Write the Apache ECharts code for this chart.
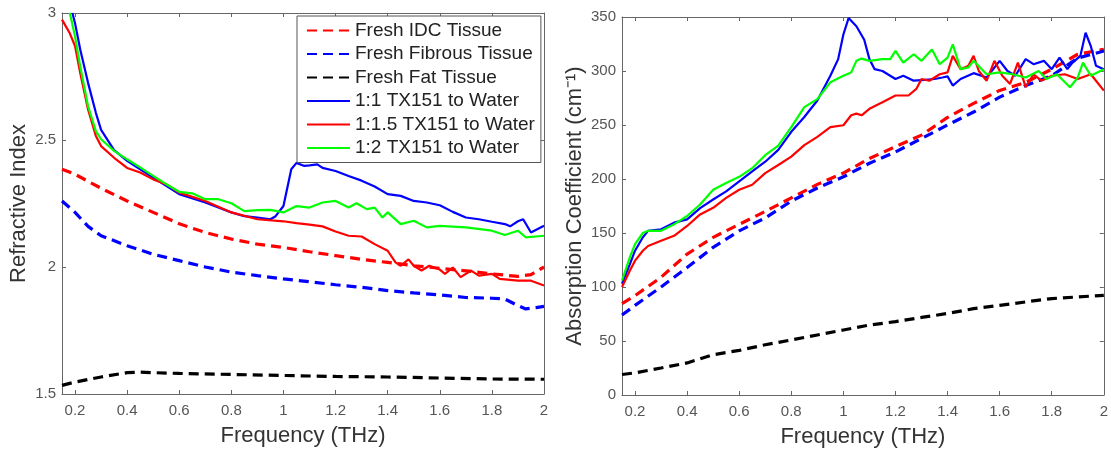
<!DOCTYPE html>
<html>
<head>
<meta charset="utf-8">
<script src="https://cdn.jsdelivr.net/npm/echarts@6/dist/echarts.min.js"></script>
<style>
html, body { margin: 0; padding: 0; background: #fff; }
#chart { width: 1111px; height: 453px; }
</style>
</head>
<body>
<div id="chart"></div>
<script>
// tick positions on the frequency axis
var xTicks = [0.2, 0.4, 0.6, 0.8, 1, 1.2, 1.4, 1.6, 1.8, 2];

var seriesNames = ['Fresh IDC Tissue', 'Fresh Fibrous Tissue', 'Fresh Fat Tissue',
    '1:1 TX151 to Water', '1:1.5 TX151 to Water', '1:2 TX151 to Water'];

// refractive index, [frequency THz, n]
var riIdc = [[0.15,2.385],[0.2,2.365],[0.3,2.31],[0.4,2.26],[0.5,2.215],[0.6,2.17],[0.7,2.136],[0.8,2.11],[0.9,2.09],[1.0,2.077],[1.1,2.06],[1.2,2.045],[1.3,2.03],[1.4,2.018],[1.5,2.005],[1.6,1.995],[1.7,1.985],[1.8,1.973],[1.9,1.963],[1.95,1.97],[2.0,2.0]];
var riFibrous = [[0.15,2.26],[0.2,2.215],[0.25,2.16],[0.3,2.123],[0.4,2.084],[0.5,2.05],[0.6,2.025],[0.7,2.0],[0.8,1.98],[0.9,1.966],[1.0,1.953],[1.1,1.942],[1.2,1.93],[1.3,1.92],[1.4,1.907],[1.5,1.898],[1.6,1.89],[1.7,1.88],[1.8,1.877],[1.85,1.874],[1.9,1.848],[1.93,1.835],[1.97,1.84],[2.0,1.845]];
var riFat = [[0.15,1.534],[0.2,1.547],[0.3,1.567],[0.4,1.584],[0.45,1.586],[0.5,1.584],[0.6,1.581],[0.8,1.577],[1.0,1.573],[1.2,1.569],[1.4,1.567],[1.6,1.563],[1.8,1.559],[2.0,1.558]];
var riMix11 = [[0.19,3.0],[0.2,2.96],[0.22,2.856],[0.25,2.725],[0.28,2.607],[0.3,2.54],[0.35,2.46],[0.4,2.418],[0.45,2.385],[0.5,2.352],[0.55,2.32],[0.6,2.287],[0.7,2.254],[0.8,2.215],[0.85,2.2],[0.9,2.195],[0.95,2.188],[0.97,2.2],[1.0,2.24],[1.03,2.385],[1.05,2.41],[1.08,2.398],[1.1,2.4],[1.13,2.404],[1.15,2.39],[1.2,2.378],[1.25,2.358],[1.3,2.34],[1.35,2.317],[1.4,2.287],[1.45,2.28],[1.5,2.26],[1.55,2.254],[1.6,2.243],[1.65,2.217],[1.7,2.195],[1.75,2.188],[1.8,2.178],[1.85,2.169],[1.87,2.16],[1.9,2.18],[1.92,2.188],[1.95,2.136],[2.0,2.162]];
var riMix115 = [[0.15,2.974],[0.18,2.92],[0.2,2.87],[0.22,2.764],[0.25,2.62],[0.28,2.516],[0.3,2.476],[0.35,2.43],[0.4,2.39],[0.45,2.372],[0.5,2.345],[0.55,2.326],[0.6,2.293],[0.7,2.26],[0.8,2.215],[0.9,2.188],[1.0,2.18],[1.05,2.173],[1.1,2.167],[1.15,2.16],[1.2,2.14],[1.25,2.123],[1.3,2.12],[1.35,2.09],[1.4,2.064],[1.43,2.018],[1.45,2.005],[1.48,2.03],[1.5,2.005],[1.53,1.986],[1.56,2.005],[1.6,1.99],[1.62,1.973],[1.65,1.998],[1.68,1.96],[1.72,1.986],[1.75,1.966],[1.8,1.973],[1.83,1.953],[1.9,1.946],[1.95,1.946],[2.0,1.927]];
var riMix12 = [[0.18,3.0],[0.2,2.908],[0.22,2.79],[0.25,2.633],[0.28,2.535],[0.3,2.503],[0.35,2.457],[0.4,2.424],[0.45,2.392],[0.5,2.359],[0.55,2.326],[0.6,2.296],[0.65,2.29],[0.7,2.267],[0.75,2.267],[0.8,2.251],[0.85,2.22],[0.9,2.224],[0.95,2.225],[1.0,2.215],[1.05,2.24],[1.1,2.234],[1.15,2.254],[1.2,2.26],[1.25,2.234],[1.28,2.251],[1.32,2.228],[1.35,2.234],[1.38,2.195],[1.4,2.215],[1.45,2.169],[1.5,2.182],[1.55,2.156],[1.6,2.162],[1.7,2.156],[1.8,2.143],[1.85,2.126],[1.9,2.143],[1.93,2.117],[2.0,2.123]];

// absorption coefficient, [frequency THz, cm^-1]
var acIdc = [[0.15,84.7],[0.2,92],[0.3,109],[0.4,130.5],[0.5,146],[0.6,158],[0.7,170],[0.8,182.5],[0.9,195],[1.0,205.5],[1.1,219],[1.2,230],[1.3,240.6],[1.4,257],[1.5,270],[1.6,282],[1.7,289.5],[1.8,301.7],[1.9,315.5],[2.0,320]];
var acFibrous = [[0.15,74],[0.2,83],[0.3,100],[0.4,118],[0.5,136.7],[0.6,152],[0.7,164],[0.8,179.5],[0.9,191.7],[1.0,202],[1.1,214.6],[1.2,225],[1.3,237.5],[1.4,250],[1.5,262],[1.6,275.8],[1.7,286.5],[1.8,295.6],[1.9,312],[2.0,318.5]];
var acFat = [[0.15,19],[0.2,20.5],[0.3,25],[0.4,29.7],[0.5,37.3],[0.6,41.3],[0.7,46.5],[0.8,51],[0.9,55.6],[1.0,60.2],[1.1,64.8],[1.2,67.9],[1.3,71.8],[1.4,75.5],[1.5,80],[1.6,83],[1.7,86.2],[1.8,89.3],[1.9,90.8],[2.0,92.3]];
var acMix11 = [[0.15,103],[0.18,121],[0.2,133.6],[0.23,146],[0.25,152],[0.3,153.5],[0.35,159.6],[0.4,162.6],[0.45,173],[0.5,181],[0.55,188.6],[0.6,197.8],[0.65,207],[0.7,216],[0.75,227],[0.8,243.7],[0.85,257.4],[0.9,272.7],[0.95,295.6],[0.98,311],[1.0,333.8],[1.02,349],[1.05,341.5],[1.08,329],[1.1,311],[1.12,301.7],[1.15,300],[1.2,292.6],[1.23,295.6],[1.27,291],[1.3,291.6],[1.35,292.6],[1.38,294],[1.4,295],[1.42,286.5],[1.45,292.6],[1.5,298],[1.55,294],[1.6,309.4],[1.63,300],[1.66,295.6],[1.7,311],[1.73,306.3],[1.77,309.4],[1.8,301.7],[1.83,312.4],[1.86,301.7],[1.88,307.8],[1.91,314],[1.93,335.4],[1.95,323],[1.97,304.8],[2.0,301.7]];
var acMix115 = [[0.15,100],[0.18,115],[0.2,124.4],[0.23,133.6],[0.25,138],[0.3,142.8],[0.35,147.4],[0.4,156.5],[0.45,167.2],[0.5,173.3],[0.55,182.5],[0.6,190],[0.65,194.7],[0.7,205.4],[0.75,213],[0.8,220.7],[0.85,231.4],[0.9,239],[0.95,248],[1.0,249.8],[1.03,259],[1.05,260.5],[1.07,259],[1.1,265],[1.15,271],[1.2,277.3],[1.25,277.3],[1.28,283.4],[1.3,292.6],[1.33,291],[1.37,297],[1.4,298.7],[1.42,314],[1.45,301.7],[1.48,304.8],[1.5,314],[1.52,300],[1.55,291],[1.58,309.4],[1.61,295.6],[1.64,288],[1.67,307.8],[1.7,285],[1.73,297],[1.76,291],[1.8,295.6],[1.85,297],[1.9,292.6],[1.95,297],[2.0,281.8]];
var acMix12 = [[0.15,106],[0.18,127.5],[0.2,139.7],[0.23,150],[0.25,152],[0.3,152],[0.35,158],[0.4,165.7],[0.45,176.4],[0.5,190],[0.55,196.3],[0.6,202],[0.65,210],[0.7,222],[0.75,231],[0.8,248],[0.85,266.6],[0.9,274],[0.95,289.5],[1.0,295.6],[1.03,298.7],[1.05,309.4],[1.07,311.5],[1.1,309.4],[1.15,311],[1.18,311],[1.2,318.6],[1.23,307.8],[1.27,315.5],[1.3,309.4],[1.34,320],[1.37,306.3],[1.4,312.4],[1.42,324.7],[1.45,301.7],[1.48,303.3],[1.5,309.4],[1.55,297],[1.6,298.7],[1.65,297],[1.7,294],[1.75,300],[1.78,292.6],[1.82,297],[1.87,285],[1.9,294],[1.92,307.8],[1.95,295.6],[2.0,301.7]];

var axisGray = '#666';
var font = 'Liberation Sans, Arial, sans-serif';

function xAx(grid, pos, withLabels) {
    return {
        type: 'value', gridIndex: grid, position: pos,
        min: 0.15, max: 2,
        name: withLabels ? 'Frequency (THz)' : '',
        nameLocation: 'middle', nameGap: 31,
        nameTextStyle: { fontSize: 22, color: '#333', fontFamily: font },
        axisLine: { show: true, onZero: false, lineStyle: { color: axisGray, width: 1 } },
        axisTick: { show: true, inside: true, length: 4, customValues: xTicks, lineStyle: { color: axisGray } },
        axisLabel: { show: withLabels, customValues: xTicks, fontSize: 15, color: '#555', margin: 9, fontFamily: font },
        splitLine: { show: false }
    };
}

function yAx(grid, pos, min, max, step, name, gap) {
    var main = pos === 'left';
    return {
        type: 'value', gridIndex: grid, position: pos,
        min: min, max: max, interval: step,
        name: main ? name : '',
        nameLocation: 'middle', nameGap: gap,
        nameTextStyle: { fontSize: 22, color: '#333', fontFamily: font },
        axisLine: { show: true, onZero: false, lineStyle: { color: axisGray, width: 1 } },
        axisTick: { show: true, inside: true, length: 4, lineStyle: { color: axisGray } },
        axisLabel: { show: main, fontSize: 15, color: '#555', margin: 6, fontFamily: font },
        splitLine: { show: false }
    };
}

function line(name, data, color, dashed, grid) {
    return {
        name: name, type: 'line', data: data,
        xAxisIndex: grid * 2, yAxisIndex: grid * 2,
        symbol: 'none', smooth: false, clip: true,
        lineStyle: { color: color, width: dashed ? 3.2 : 2.2, type: dashed ? [10, 6] : 'solid' },
        itemStyle: { color: color },
        emphasis: { disabled: true }
    };
}

var chart = echarts.init(document.getElementById('chart'));
chart.setOption({
    animation: false,
    backgroundColor: '#fff',
    grid: [
        { left: 62, top: 13, width: 482, height: 381 },
        { left: 622, top: 17, width: 482, height: 381 }
    ],
    legend: {
        data: seriesNames,
        orient: 'vertical',
        left: 297, top: 16,
        padding: [5, 6, 5, 9],
        itemWidth: 43, itemHeight: 14, itemGap: 4.5,
        itemStyle: { opacity: 0 },
        backgroundColor: '#fff', borderColor: '#555', borderWidth: 1,
        textStyle: { fontSize: 19, color: '#222', fontFamily: font },
        selectedMode: false
    },
    xAxis: [xAx(0, 'bottom', true), xAx(0, 'top', false), xAx(1, 'bottom', true), xAx(1, 'top', false)],
    yAxis: [
        yAx(0, 'left', 1.5, 3, 0.5, 'Refractive Index', 32),
        yAx(0, 'right', 1.5, 3, 0.5, '', 32),
        yAx(1, 'left', 0, 350, 50, 'Absorption Coefficient (cm\u207B\u00B9)', 36),
        yAx(1, 'right', 0, 350, 50, '', 36)
    ],
    series: [
        line(seriesNames[0], riIdc, '#ff0000', true, 0),
        line(seriesNames[1], riFibrous, '#0000ff', true, 0),
        line(seriesNames[2], riFat, '#000000', true, 0),
        line(seriesNames[3], riMix11, '#0000ff', false, 0),
        line(seriesNames[4], riMix115, '#ff0000', false, 0),
        line(seriesNames[5], riMix12, '#00ff00', false, 0),
        line(seriesNames[0], acIdc, '#ff0000', true, 1),
        line(seriesNames[1], acFibrous, '#0000ff', true, 1),
        line(seriesNames[2], acFat, '#000000', true, 1),
        line(seriesNames[3], acMix11, '#0000ff', false, 1),
        line(seriesNames[4], acMix115, '#ff0000', false, 1),
        line(seriesNames[5], acMix12, '#00ff00', false, 1)
    ]
});
window.addEventListener('resize', function () {
    chart.resize();
});
</script>
</body>
</html>
